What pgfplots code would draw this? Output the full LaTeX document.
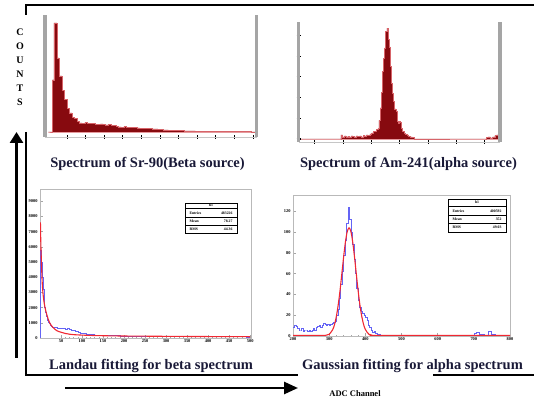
\documentclass[border=0pt]{standalone}
\usepackage{fontspec}
\setmainfont{Liberation Serif}
\usepackage{pgfplots}
\pgfplotsset{compat=1.18}
\usetikzlibrary{arrows.meta}

\definecolor{histred}{RGB}{135,10,15}
\definecolor{histedge}{RGB}{215,100,105}
\definecolor{fitred}{RGB}{240,40,50}
\definecolor{datablue}{RGB}{100,100,245}
\definecolor{titlecol}{RGB}{25,25,55}
\definecolor{framegray}{RGB}{165,165,165}

\pgfplotsset{
  toppanel/.style={
    scale only axis, anchor=south west, axis on top,
    axis x line*=bottom, axis y line*=box,
    x axis line style={draw=gray!45, line width=0.6pt},
    y axis line style={draw=framegray, line width=3.5pt},
    xticklabels=\empty, yticklabels=\empty,
    xtick pos=bottom, ytick pos=left,
    tick align=center, major tick length=4pt,
    xtick style={black, line width=0.9pt},
    ytick style={black, line width=1.1pt},
    minor tick num=0,
  },
  botpanel/.style={
    scale only axis, anchor=south west,
    axis line style={draw=gray!55, line width=0.4pt},
    xtick pos=bottom, ytick pos=left,
    tick align=inside, major tick length=2.5pt, minor tick length=1.2pt,
    tick style={gray!70, line width=0.4pt},
    tick label style={font=\fontsize{4.4}{5}\selectfont\bfseries},
    /pgf/number format/assume math mode=true,
    /pgf/number format/1000 sep={},
    yticklabel style={xshift=1pt},
    xticklabel style={yshift=1.5pt},
  },
}

\begin{document}
\begin{tikzpicture}[x=1pt,y=1pt]
\path[use as bounding box] (0,0) rectangle (534,403);

% ---------------- top left: Sr-90 ----------------
\begin{axis}[toppanel, at={(45pt,266pt)}, width=211.5pt, height=122pt,
  xmin=-9, xmax=559, ymin=-263, ymax=6158,
  xtick={50,100,...,550}, ytick={0,1000,...,6000}]
\addplot[const plot, fill=histred, draw=histedge, line width=0.5pt] coordinates {
(0,0)(10,2740)(15,5740)(23,3900)(28,2950)(36,2200)(42,1700)(50,1250)(56,1000)(63,780)
(70,720)(77,560)(84,480)(91,470)(98,500)(105,460)(112,440)(119,450)(126,420)(133,400)
(140,430)(147,390)(154,380)(161,400)(168,360)(175,330)(182,290)(189,270)(196,260)(203,280)
(210,250)(217,240)(224,260)(231,230)(238,220)(245,200)(252,210)(259,190)(266,180)(273,200)
(280,170)(287,160)(294,140)(301,120)(308,110)(315,115)(322,100)(329,95)(336,80)(350,70)
(365,60)(380,55)(395,50)(410,45)(425,45)(440,40)(455,35)(470,35)(485,30)(500,25)
(515,20)(530,15)(545,10)(556,0)(559,0)} \closedcycle;
\end{axis}

% ---------------- top right: Am-241 ----------------
\begin{axis}[toppanel, at={(298.5pt,261pt)}, width=201.5pt, height=120pt,
  xmin=42, xmax=754, ymin=-2.9, ymax=113,
  xtick={100,200,...,700}, ytick={0,20,...,100}]
\addplot[const plot, fill=histred, draw=histedge, line width=0.5pt] coordinates {
(42,0)(190,0)(192,4)(198,2)(204,3)(210,2)(216,2.5)(222,2)(228,3)(234,2.5)(240,2)(246,3)
(252,2.5)(258,3)(264,2)(270,3.5)(276,3)(282,4)(288,3.5)(294,5)(300,6)(306,7)(312,7.5)
(318,9)(322,10)(326,18)(330,30)(334,45)(338,65)(342,78)(346,88)(350,104)(354,107)
(358,96)(362,89)(366,70)(370,54)(374,44)(378,36)(382,29)(386,27)(390,17)(394,15)
(398,17)(402,16)(406,10)(410,7)(414,6)(418,5)(422,4.5)(426,4)(430,2.5)(436,2)(444,1.5)
(452,0)(700,0)(705,1.5)(712,2)(720,1)(728,2)(736,3.5)(742,4)(748,1.5)(752,0)(754,0)} \closedcycle;
\end{axis}

% ---------------- bottom left: Landau fit ----------------
\begin{axis}[botpanel, at={(40pt,65pt)}, width=211pt, height=149pt,
  xmin=0, xmax=502, ymin=0, ymax=9800,
  xtick={50,100,...,500}, ytick={0,1000,...,9000},
  minor x tick num=4, minor y tick num=4]
\addplot[const plot, draw=datablue, line width=0.5pt] coordinates {
(0,0)(1,5800)(3,5000)(5,4000)(7,3200)(9,2500)(11,2000)(13,1700)(15,1400)(17,1200)
(19,1050)(21,950)(24,850)(27,780)(30,720)(35,680)(40,660)(45,640)(50,650)(55,620)
(60,600)(65,610)(70,560)(75,520)(80,480)(85,420)(90,360)(95,330)(100,300)(110,260)
(120,230)(130,200)(140,180)(150,160)(170,150)(190,140)(210,130)(230,125)(250,120)
(270,120)(290,115)(310,110)(330,105)(350,100)(370,100)(390,95)(410,95)(430,90)
(450,90)(470,85)(490,80)(500,80)};
\addplot[smooth, draw=fitred, line width=1.1pt] coordinates {
(1,7600)(2,6200)(3,5300)(4,4500)(5,3800)(6,3300)(8,2700)(10,2300)(12,2000)(15,1650)
(20,1200)(25,900)(30,720)(40,480)(50,380)(60,300)(70,250)(80,220)(100,190)(120,170)
(150,150)(200,130)(300,110)(400,95)(500,85)};
\end{axis}

% ---------------- bottom right: Gaussian fit ----------------
\begin{axis}[botpanel, at={(293pt,67pt)}, width=217pt, height=141pt,
  xmin=200, xmax=800, ymin=0, ymax=135.6,
  xtick={200,300,...,800}, ytick={0,20,...,120},
  minor x tick num=4, minor y tick num=4]
\addplot[const plot, draw=datablue, line width=0.5pt] coordinates {
(200,8)(204,10)(208,9)(212,7)(216,6)(220,6)(224,7)(228,5)(232,6)(236,6)(240,5)(244,6)
(248,5)(252,6)(256,7)(260,6)(264,8)(268,9)(272,10)(276,8)(280,10)(284,12)(288,11)
(292,10)(296,11)(300,10)(304,11)(308,12)(312,13)(316,14)(320,20)(324,26)(328,36)
(332,50)(336,62)(340,78)(344,92)(348,108)(352,124)(356,112)(360,100)(364,88)(368,74)
(372,60)(376,46)(380,34)(384,28)(388,24)(392,22)(396,20)(400,18)(404,15)(408,10)
(412,8)(416,6)(420,4)(424,5)(428,3)(432,2)(440,1)(460,0.5)(500,1)(540,0.5)(600,1)
(650,0.5)(690,1)(700,3)(708,4)(716,2)(730,1)(740,5)(748,2)(760,1)(800,1)};
\addplot[smooth, draw=fitred, line width=1.1pt] coordinates {
(200,0.5)(280,0.5)(290,0.6)(300,1.6)(310,6.3)(315,11.3)(320,19.1)(325,29.9)(330,43.7)
(335,59.8)(340,76.1)(345,90.6)(350,100.5)(355,104)(360,100.5)(365,90.6)(370,76.1)
(375,59.8)(380,43.7)(385,29.9)(390,19.1)(395,11.3)(400,6.3)(410,1.6)(420,0.6)
(440,0.5)(800,0.5)};
\end{axis}

% ---------------- stats boxes ----------------
\begin{scope}[font=\fontsize{3.8}{4}\selectfont\bfseries]
\draw[line width=0.5pt, fill=white] (185,200) rectangle (237,170);
\draw[line width=0.4pt] (185,195) -- (237,195) (185,186) -- (237,186) (185,178) -- (237,178);
\node at (211,197.5) {h1};
\node[anchor=west] at (186,190) {Entries}; \node[anchor=east] at (236,190) {483226};
\node[anchor=west] at (186,182) {Mean};    \node[anchor=east] at (236,182) {78.27};
\node[anchor=west] at (186,174) {RMS};     \node[anchor=east] at (236,174) {44.36};
\draw[line width=0.5pt, fill=white] (448,204) rectangle (506,171);
\draw[line width=0.4pt] (448,197) -- (506,197) (448,188) -- (506,188) (448,180) -- (506,180);
\node at (477,200.5) {h1};
\node[anchor=west] at (449,192) {Entries}; \node[anchor=east] at (505,192) {400592};
\node[anchor=west] at (449,184) {Mean};    \node[anchor=east] at (505,184) {352};
\node[anchor=west] at (449,176) {RMS};     \node[anchor=east] at (505,176) {49.03};
\end{scope}

% ---------------- frame and arrows ----------------
\draw[line width=1.6pt] (26,388) -- (26,398) -- (534,398);
\draw[line width=1.6pt] (26,271) -- (26,28) -- (298,28);
\draw[line width=1.6pt] (433,28) -- (534,28);
\draw[line width=2.6pt, -{Triangle[length=11pt,width=13pt]}] (16.5,45) -- (16.5,271);
\draw[line width=2.6pt, -{Triangle[length=14pt,width=12pt]}] (65,15) -- (298,15);

% ---------------- texts ----------------
\node[font=\fontsize{10}{14}\selectfont\bfseries, align=center] at (20,335.5) {C\\O\\U\\N\\T\\S};
\node[font=\fontsize{8.5}{9}\selectfont\bfseries] at (355,9) {ADC Channel};
\node[font=\fontsize{14.5}{15}\selectfont\bfseries, text=titlecol] at (147.5,239) {Spectrum of Sr-90(Beta source)};
\node[font=\fontsize{14.5}{15}\selectfont\bfseries, text=titlecol] at (408.5,239) {Spectrum of Am-241(alpha source)};
\node[font=\fontsize{14.5}{15}\selectfont\bfseries, text=titlecol] at (151,37) {Landau fitting for beta spectrum};
\node[font=\fontsize{14.5}{15}\selectfont\bfseries, text=titlecol] at (412.5,37) {Gaussian fitting for alpha spectrum};
\end{tikzpicture}
\end{document}
